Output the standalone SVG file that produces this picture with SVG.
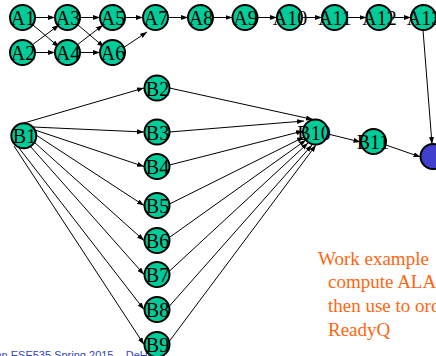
<svg xmlns="http://www.w3.org/2000/svg" width="436" height="356" viewBox="0 0 436 356">
<style>
.n{fill:#00CC99;stroke:#000;stroke-width:2}
.b{fill:#4040CC;stroke:#000;stroke-width:2}
.t{font-family:"Liberation Serif","Times New Roman",serif;font-size:20px;fill:#000;text-anchor:middle}
.e{stroke:#000;stroke-width:1;fill:none;marker-end:url(#ah)}
.o{font-family:"Liberation Serif","Times New Roman",serif;font-size:19px;fill:#FF6611}
.f{font-family:"Liberation Sans",Arial,sans-serif;font-size:11px;fill:#3344BB}
</style>
<defs>
<marker id="ah" markerUnits="userSpaceOnUse" markerWidth="8" markerHeight="6" refX="7" refY="2.5" orient="auto">
<path d="M0,0 L7,2.5 L0,5 z" fill="#000"/>
</marker>
</defs>
<text class="f" x="-18" y="359">Penn ESE535 Spring 2015 – DeHon</text>
<g id="connectors">
<path class="e" d="M35,17.5 L55,17.5"/>
<path class="e" d="M35,52.5 L55,52.5"/>
<path class="e" d="M33,25 L59,47"/>
<path class="e" d="M32,45 L59,25"/>
<path class="e" d="M80,17.5 L100,17.5"/>
<path class="e" d="M80,52.5 L100,52.5"/>
<path class="e" d="M78,25 L104,47"/>
<path class="e" d="M77,45 L103,25"/>
<path class="e" d="M125,17.5 L143,17.5"/>
<path class="e" d="M123,48 L147,32"/>
<path class="e" d="M168,17.5 L188,17.5"/>
<path class="e" d="M213,17.5 L232.5,17.5"/>
<path class="e" d="M257.5,17.5 L277,17.5"/>
<path class="e" d="M302,17.5 L322,17.5"/>
<path class="e" d="M347,17.5 L366.5,17.5"/>
<path class="e" d="M391.5,17.5 L411,17.5"/>
<path class="e" d="M423,30 L432,144"/>
<path class="e" d="M24,123 L144,88"/>
<path class="e" d="M33,127 L144,132"/>
<path class="e" d="M35,130 L144,166.5"/>
<path class="e" d="M36,135 L144,205.5"/>
<path class="e" d="M34,142 L144,240.5"/>
<path class="e" d="M30,146 L144,274.5"/>
<path class="e" d="M19,148 L144,309.5"/>
<path class="e" d="M14,146 L144,344.5"/>
<path class="e" d="M169.5,88 L313,119.5"/>
<path class="e" d="M169.5,132 L304,121"/>
<path class="e" d="M169.5,165 L303,131"/>
<path class="e" d="M169.5,204 L304,137"/>
<path class="e" d="M170,237 L306,140"/>
<path class="e" d="M169.5,271 L308,143"/>
<path class="e" d="M169.5,306 L312,145"/>
<path class="e" d="M169.5,341 L316,145"/>
<path class="e" d="M328,134 L360.5,142"/>
<path class="e" d="M386,145 L420.5,157"/>
</g>
<g id="A1"><circle class="n" cx="22.5" cy="17.5" r="12.5"/><text class="t" x="23" y="25">A1</text></g>
<g id="A2"><circle class="n" cx="22.5" cy="52.5" r="12.5"/><text class="t" x="23" y="60">A2</text></g>
<g id="A3"><circle class="n" cx="67.5" cy="17.5" r="12.5"/><text class="t" x="68" y="25">A3</text></g>
<g id="A4"><circle class="n" cx="67.5" cy="52.5" r="12.5"/><text class="t" x="68" y="60">A4</text></g>
<g id="A5"><circle class="n" cx="112.5" cy="17.5" r="12.5"/><text class="t" x="113" y="25">A5</text></g>
<g id="A6"><circle class="n" cx="112.5" cy="52.5" r="12.5"/><text class="t" x="113" y="60">A6</text></g>
<g id="A7"><circle class="n" cx="155.5" cy="17.5" r="12.5"/><text class="t" x="156" y="25">A7</text></g>
<g id="A8"><circle class="n" cx="200.5" cy="17.5" r="12.5"/><text class="t" x="201" y="25">A8</text></g>
<g id="A9"><circle class="n" cx="245" cy="17.5" r="12.5"/><text class="t" x="245.5" y="25">A9</text></g>
<g id="A10"><circle class="n" cx="289.5" cy="17.5" r="12.5"/><text class="t" x="290" y="25">A10</text></g>
<g id="A11"><circle class="n" cx="334.5" cy="17.5" r="12.5"/><text class="t" x="335" y="25">A11</text></g>
<g id="A12"><circle class="n" cx="379" cy="17.5" r="12.5"/><text class="t" x="379.5" y="25">A12</text></g>
<g id="A13"><circle class="n" cx="423.5" cy="17.5" r="12.5"/><text class="t" x="424" y="25">A13</text></g>
<g id="B1"><circle class="n" cx="23.8" cy="135.8" r="12.5"/><text class="t" x="24.5" y="143">B1</text></g>
<g id="B2"><circle class="n" cx="157" cy="88" r="12.5"/><text class="t" x="157.5" y="95.5">B2</text></g>
<g id="B3"><circle class="n" cx="157" cy="132" r="12.5"/><text class="t" x="157.5" y="139.5">B3</text></g>
<g id="B4"><circle class="n" cx="157" cy="166.5" r="12.5"/><text class="t" x="157.5" y="174">B4</text></g>
<g id="B5"><circle class="n" cx="157" cy="205.5" r="12.5"/><text class="t" x="157.5" y="213">B5</text></g>
<g id="B6"><circle class="n" cx="157" cy="240.5" r="12.5"/><text class="t" x="157.5" y="248">B6</text></g>
<g id="B7"><circle class="n" cx="157" cy="274.5" r="12.5"/><text class="t" x="157.5" y="282">B7</text></g>
<g id="B8"><circle class="n" cx="157" cy="309.5" r="12.5"/><text class="t" x="157.5" y="317">B8</text></g>
<g id="B9"><circle class="n" cx="157" cy="344.5" r="12.5"/><text class="t" x="157.5" y="352">B9</text></g>
<g id="B10"><circle class="n" cx="315.5" cy="132" r="12.5"/><text class="t" x="314" y="139.5">B10</text></g>
<g id="B11"><circle class="n" cx="373.5" cy="141.5" r="12.5"/><text class="t" x="373" y="149">B11</text></g>
<g id="sink"><circle class="b" cx="433" cy="156.5" r="12.5"/></g>
<g id="note">
<text class="o" x="318" y="264.5">Work example</text>
<text class="o" x="328" y="288.2">compute ALAP</text>
<text class="o" x="328" y="312">then use to order</text>
<text class="o" x="328" y="335.7">ReadyQ</text>
</g>
</svg>
